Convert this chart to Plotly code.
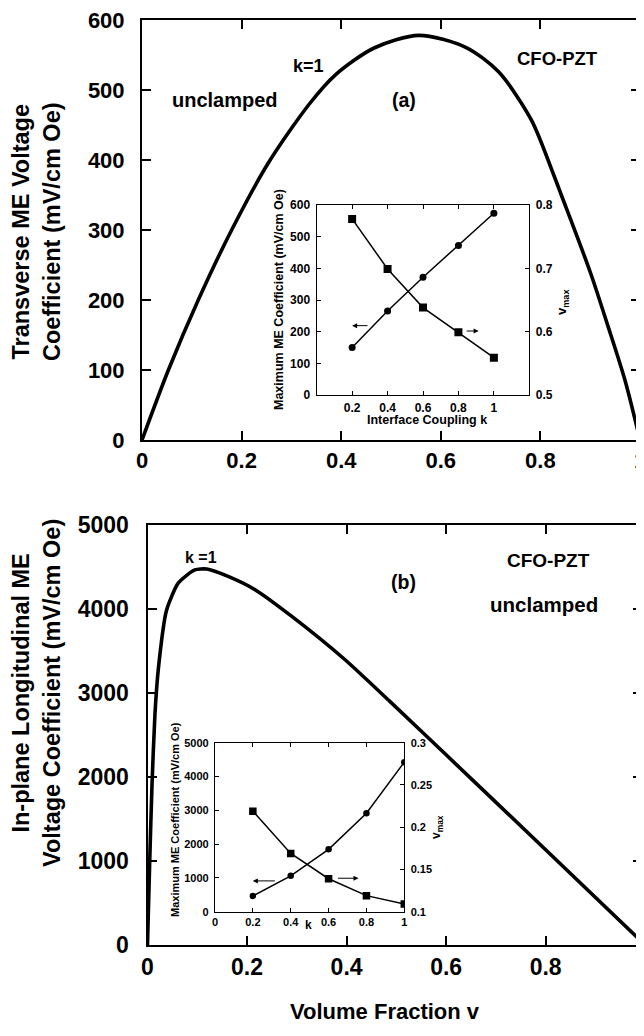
import plotly.graph_objects as go

W, H = 644, 1036
OFF = 8  # default page body margin of the written html page

# ---------------- data ----------------
# (a) main: transverse ME voltage coefficient vs volume fraction
va = [0, 0.053, 0.113, 0.18, 0.253, 0.336, 0.389, 0.466, 0.556, 0.65, 0.716, 0.782, 0.826, 0.842, 0.9, 0.936, 0.97, 1.0]
ya = [0, 100, 200, 300, 395, 480, 522, 560, 578, 561, 526, 457, 380, 350, 240, 162, 85, 0]

# (a) inset
ka = [0.2, 0.4, 0.6, 0.8, 1.0]
me_max_a = [150, 265, 372, 472, 574]
vmax_a = [0.778, 0.699, 0.638, 0.599, 0.559]

# (b) main: in-plane longitudinal ME voltage coefficient
vb = [0, 0.004, 0.009, 0.015, 0.022, 0.038, 0.062, 0.095, 0.119, 0.162, 0.216, 0.29, 0.397, 0.487, 0.6, 0.8, 1.0]
yb = [0, 900, 1900, 2750, 3300, 3980, 4310, 4465, 4476, 4388, 4230, 3912, 3396, 2900, 2264, 1134, 0]

# (b) inset
kb = [0.2, 0.4, 0.6, 0.8, 1.0]
me_max_b = [465, 1060, 1846, 2911, 4425]
vmax_b = [0.219, 0.169, 0.139, 0.119, 0.109]

main_ticks_x = [0, 0.2, 0.4, 0.6, 0.8, 1.0]
main_ticktext_x = ["0", "0.2", "0.4", "0.6", "0.8", "1"]

FONT = "Liberation Sans, Arial, Helvetica, sans-serif"


def px(x):
    return (x - OFF) / W


def py(y):
    return 1 - (y - OFF) / H


fig = go.Figure()

# main curves
fig.add_trace(go.Scatter(x=va, y=ya, mode="lines", line=dict(color="black", width=3.6, shape="spline", smoothing=0.8),
                         xaxis="x", yaxis="y", showlegend=False))
fig.add_trace(go.Scatter(x=vb, y=yb, mode="lines", line=dict(color="black", width=3.6, shape="spline", smoothing=0.6),
                         xaxis="x3", yaxis="y4", showlegend=False))

# inset (a)
fig.add_trace(go.Scatter(x=ka, y=me_max_a, mode="lines+markers", line=dict(color="black", width=1.5),
                         marker=dict(symbol="circle", size=7, color="black"), xaxis="x2", yaxis="y2", showlegend=False))
fig.add_trace(go.Scatter(x=ka, y=vmax_a, mode="lines+markers", line=dict(color="black", width=1.5),
                         marker=dict(symbol="square", size=8, color="black"), xaxis="x2", yaxis="y3", showlegend=False))
# inset (b)
fig.add_trace(go.Scatter(x=kb, y=me_max_b, mode="lines+markers", line=dict(color="black", width=1.5),
                         marker=dict(symbol="circle", size=6.5, color="black"), xaxis="x4", yaxis="y5", showlegend=False))
fig.add_trace(go.Scatter(x=kb, y=vmax_b, mode="lines+markers", line=dict(color="black", width=1.5),
                         marker=dict(symbol="square", size=7.5, color="black"), xaxis="x4", yaxis="y6", showlegend=False))

tf_a = dict(family=FONT, size=22, color="black", weight="bold")
tf_b = dict(family=FONT, size=23, color="black", weight="bold")
axis_common = dict(showline=True, linewidth=2, linecolor="black", ticks="inside", ticklen=9, tickwidth=2,
                   tickcolor="black", showgrid=False, zeroline=False, mirror="ticks", automargin=False,
                   ticklabeloverflow="allow")

inset_common = dict(showline=True, linewidth=1.3, linecolor="black", ticks="inside", ticklen=4, tickwidth=1.2,
                    tickcolor="black", showgrid=False, zeroline=False, automargin=False,
                    ticklabeloverflow="allow")
itf_a = dict(family=FONT, size=12, color="black", weight="bold")
itf_b = dict(family=FONT, size=11, color="black", weight="bold")

fig.update_layout(
    width=W, height=H,
    margin=dict(l=0, r=0, t=0, b=0, autoexpand=False),
    paper_bgcolor="white", plot_bgcolor="rgba(0,0,0,0)",
    showlegend=False,
    # panel (a) main
    xaxis=dict(domain=[px(142), px(640)], range=[0, 1], tickvals=main_ticks_x, ticktext=main_ticktext_x,
               tickfont=tf_a, anchor="y", ticklabelstandoff=0, **axis_common),
    yaxis=dict(domain=[py(440), py(20)], range=[0, 600], dtick=100, tickfont=tf_a, anchor="x",
               ticklabelstandoff=11, **axis_common),
    # panel (a) inset
    xaxis2=dict(domain=[px(316.7), px(529.3)], range=[0, 1.2], tickvals=ka,
                ticktext=["0.2", "0.4", "0.6", "0.8", "1"], anchor="y2", mirror="ticks",
                tickfont=itf_a, ticklabelstandoff=1, **inset_common),
    yaxis2=dict(domain=[py(395), py(205)], range=[0, 600], dtick=100, anchor="x2",
                tickfont=itf_a, ticklabelstandoff=3, **inset_common),
    yaxis3=dict(domain=[py(395), py(205)], range=[0.5, 0.8], tickvals=[0.5, 0.6, 0.7, 0.8],
                ticktext=["0.5", "0.6", "0.7", "0.8"], anchor="x2", overlaying="y2", side="right",
                tickfont=itf_a, ticklabelstandoff=3, **inset_common),
    # panel (b) main
    xaxis3=dict(domain=[px(147.5), px(641.7)], range=[0, 0.993], tickvals=main_ticks_x[:-1],
                ticktext=main_ticktext_x[:-1], tickfont=tf_b, anchor="y4", ticklabelstandoff=0, **axis_common),
    yaxis4=dict(domain=[py(945), py(525)], range=[0, 5000], dtick=1000, tickfont=tf_b, anchor="x3",
                ticklabelstandoff=12, **axis_common),
    # panel (b) inset
    xaxis4=dict(domain=[px(215), px(404.3)], range=[0, 1], tickvals=[0, 0.2, 0.4, 0.6, 0.8, 1.0],
                ticktext=["0", "0.2", "0.4", "0.6", "0.8", "1"], anchor="y5", mirror="ticks",
                tickfont=itf_b, ticklabelstandoff=0, **inset_common),
    yaxis5=dict(domain=[py(911.7), py(742.7)], range=[0, 5000], dtick=1000, anchor="x4",
                tickfont=itf_b, ticklabelstandoff=3, **inset_common),
    yaxis6=dict(domain=[py(911.7), py(742.7)], range=[0.1, 0.3], tickvals=[0.1, 0.15, 0.2, 0.25, 0.3],
                ticktext=["0.1", "0.15", "0.2", "0.25", "0.3"], anchor="x4", overlaying="y5", side="right",
                tickfont=itf_b, ticklabelstandoff=3, **inset_common),
)


def txt(x, y, s, size, angle=0):
    fig.add_annotation(x=px(x), y=py(y), xref="paper", yref="paper", text=s, showarrow=False,
                       textangle=angle, xanchor="center", yanchor="middle",
                       font=dict(family=FONT, size=size, color="black", weight="bold"))


# axis titles
txt(36, 232, "Transverse ME Voltage<br>Coefficient (mV/cm Oe)", 23.5, -90)
txt(36, 693, "In-plane Longitudinal ME<br>Voltage Coefficient (mV/cm Oe)", 23.5, -90)
txt(385, 1011, "Volume Fraction v", 22)
# cut-off "1" tick label at right edge of panel (b)
txt(645, 962, "1", 23)

# panel (a) labels
txt(225, 100, "unclamped", 20)
txt(308, 66, "k=1", 18)
txt(404, 100, "(a)", 19.5)
txt(557, 59, "CFO-PZT", 18.5)

# panel (b) labels
txt(201, 557, "k =1", 16)
txt(548, 560, "CFO-PZT", 19)
txt(403, 582, "(b)", 19.5)
txt(544, 604, "unclamped", 20.5)

# inset (a) axis titles
txt(279, 300, "Maximum ME Coefficient (mV/cm Oe)", 12.5, -90)
txt(563, 303, "v<sub>max</sub>", 13, -90)
txt(427, 420, "Interface Coupling k", 12.5)

# inset (b) axis titles
txt(175, 820, "Maximum ME Coefficient (mV/cm Oe)", 11, -90)
txt(437, 827, "v<sub>max</sub>", 12, -90)
txt(308, 925, "k", 12)


# arrows in insets
def arrow(xh, yh, xt, yt, xa, ya_):
    fig.add_annotation(x=xh, y=yh, ax=xt, ay=yt, xref=xa, yref=ya_, axref=xa, ayref=ya_, text="",
                       showarrow=True, arrowhead=2, arrowsize=1, arrowwidth=1, arrowcolor="black")


arrow(0.2, 219, 0.295, 219, "x2", "y2")
arrow(0.914, 202, 0.838, 202, "x2", "y2")
arrow(0.2, 911, 0.324, 911, "x4", "y5")
arrow(0.758, 990, 0.642, 990, "x4", "y5")

fig.write_html("out.html")
